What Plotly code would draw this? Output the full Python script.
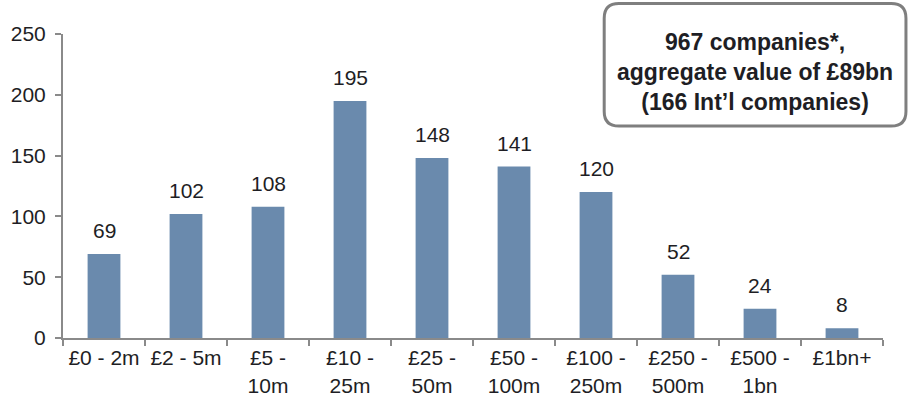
import plotly.graph_objects as go

# Company count by valuation band
bands = ["£0 - 2m", "£2 - 5m", "£5 -<br>10m", "£10 -<br>25m", "£25 -<br>50m",
         "£50 -<br>100m", "£100 -<br>250m", "£250 -<br>500m", "£500 -<br>1bn", "£1bn+"]
counts = [69, 102, 108, 195, 148, 141, 120, 52, 24, 8]
y_ticks = [0, 50, 100, 150, 200, 250]

summary_lines = ["967 companies*,", "aggregate value of £89bn", "(166 Int’l companies)"]

FONT = "Liberation Sans, Arial, sans-serif"
TEXT = "#1e1e24"
AXIS = "#8a8a8a"
BAR = "#6a8aad"

fig = go.Figure()
fig.add_trace(go.Bar(
    x=bands, y=counts, width=0.4,
    marker=dict(color=BAR, line=dict(width=0)),
    hoverinfo="skip",
))

# value labels above each bar
for b, v in zip(bands, counts):
    fig.add_annotation(x=b, y=v, text=str(v), showarrow=False,
                       xref="x", yref="y", xanchor="center", yanchor="bottom", yshift=10,
                       font=dict(family=FONT, size=21, color=TEXT))

# rounded summary box (paper coords)
x0, x1, y0, y1 = 0.660, 1.028, 0.697, 1.100
rx, ry = 0.018, 0.048
path = (f"M {x0+rx},{y1} L {x1-rx},{y1} Q {x1},{y1} {x1},{y1-ry} "
        f"L {x1},{y0+ry} Q {x1},{y0} {x1-rx},{y0} L {x0+rx},{y0} "
        f"Q {x0},{y0} {x0},{y0+ry} L {x0},{y1-ry} Q {x0},{y1} {x0+rx},{y1} Z")
fig.add_shape(type="path", path=path, xref="paper", yref="paper",
              line=dict(color="#7f7f7f", width=3), fillcolor="white", layer="above")
fig.add_annotation(x=(x0 + x1) / 2, y=0.876, xref="paper", yref="paper",
                   xanchor="center", yanchor="middle",
                   text="<b>" + "<br>".join(summary_lines) + "</b>",
                   showarrow=False, align="center",
                   font=dict(family=FONT, size=23, color=TEXT))

fig.update_layout(
    width=909, height=399,
    margin=dict(l=63, r=26, t=34, b=61, autoexpand=False),
    plot_bgcolor="white", paper_bgcolor="white",
    showlegend=False,
    font=dict(family=FONT, size=21, color=TEXT),
)
fig.update_xaxes(
    type="category", showgrid=False, showline=True, linecolor=AXIS, linewidth=2,
    ticks="outside", tickson="boundaries", ticklen=6, tickcolor=AXIS, tickwidth=2,
    tickfont=dict(family=FONT, size=21, color=TEXT), tickangle=0, automargin=False,
)
fig.update_yaxes(
    range=[0, 250], tickvals=y_ticks, showgrid=False, zeroline=False,
    showline=True, linecolor=AXIS, linewidth=2,
    ticks="outside", ticklen=6, tickcolor=AXIS, tickwidth=2, ticklabelstandoff=5,
    tickfont=dict(family=FONT, size=21, color=TEXT), automargin=False,
)

fig.write_html("out.html")
